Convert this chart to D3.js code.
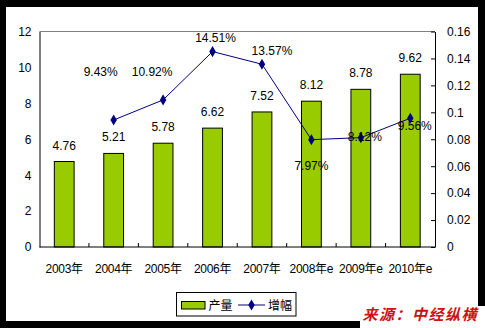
<!DOCTYPE html>
<html><head><meta charset="utf-8">
<script src="https://cdn.jsdelivr.net/npm/d3@7"></script>
<style>
html,body{margin:0;padding:0;background:#000;}
svg{display:block;}
text{font-family:"Liberation Sans","Noto Sans CJK SC",Arial,sans-serif;}
</style></head>
<body>
<svg id="chart" width="485" height="328"></svg>
<script>
const categories = ["2003年","2004年","2005年","2006年","2007年","2008年e","2009年e","2010年e"];
const output = [4.76, 5.21, 5.78, 6.62, 7.52, 8.12, 8.78, 9.62];
const growth = [null, 0.0943, 0.1092, 0.1451, 0.1357, 0.0797, 0.0812, 0.0956];
const growthLabels = ["", "9.43%", "10.92%", "14.51%", "13.57%", "7.97%", "8.12%", "9.56%"];
const leftTicks = [0, 2, 4, 6, 8, 10, 12];
const rightTicks = [0, 0.02, 0.04, 0.06, 0.08, 0.1, 0.12, 0.14, 0.16];
const rightTickLabels = ["0","0.02","0.04","0.06","0.08","0.1","0.12","0.14","0.16"];
const legendNames = ["产量", "增幅"];
const sourceText = "来源：中经纵横";

// label placement offsets (layout only)
const growthLabelOffsets = [[0,0],[-13,-44],[-11,-24],[3,-10],[10,-9],[0,30],[4,3],[4.5,12]];

const svg = d3.select("#chart");
const L = 39.5, R = 435, T = 31.5, B = 247;

svg.append("rect").attr("x",6).attr("y",7).attr("width",472).attr("height",314).attr("fill","#fff");
svg.append("rect").attr("x",360).attr("y",306).attr("width",125).attr("height",22).attr("fill","#fff");

const x = d3.scaleBand().domain(categories).range([L, R]).paddingInner(0.6).paddingOuter(0.3);
const y = d3.scaleLinear().domain([0, 12]).range([B, T]);
const y2 = d3.scaleLinear().domain([0, 0.16]).range([B, T]);
const cx = c => x(c) + x.bandwidth()/2;

// top gray border
svg.append("line").attr("x1",L).attr("x2",R).attr("y1",T).attr("y2",T).attr("stroke","#808080").attr("stroke-width",1);

// left axis
const gl = svg.append("g").attr("transform",`translate(${L},0)`)
  .call(d3.axisLeft(y).tickValues(leftTicks).tickSize(0).tickPadding(8));
gl.select(".domain").attr("stroke","#000");
gl.selectAll("text").attr("font-size",12).attr("fill","#000");

// right axis
const gr = svg.append("g").attr("transform",`translate(${R},0)`)
  .call(d3.axisRight(y2).tickValues(rightTicks).tickFormat((d,i)=>rightTickLabels[i]).tickSizeInner(-4).tickSizeOuter(0).tickPadding(12));
gr.select(".domain").attr("stroke","#000");
gr.selectAll("line").attr("stroke","#000");
gr.selectAll("text").attr("font-size",12).attr("fill","#000");

// bars
svg.append("g").selectAll("rect").data(output).join("rect")
  .attr("x",(d,i)=>x(categories[i])).attr("width",x.bandwidth())
  .attr("y",d=>y(d)).attr("height",d=>B-y(d))
  .attr("fill","#99cc00").attr("stroke","#000").attr("stroke-width",1);

// bottom axis
const step = x.step();
const gb = svg.append("g");
gb.append("line").attr("x1",L).attr("x2",R).attr("y1",B).attr("y2",B).attr("stroke","#000");
gb.selectAll("line.t").data(d3.range(1, categories.length)).join("line").attr("class","t")
  .attr("x1",i=>L+i*step).attr("x2",i=>L+i*step).attr("y1",B).attr("y2",B-4).attr("stroke","#000");
gb.selectAll("text").data(categories).join("text")
  .attr("x",c=>cx(c)).attr("y",273).attr("text-anchor","middle").attr("font-size",12).attr("fill","#000")
  .style("letter-spacing","-0.3px").text(c=>c);

// bar labels
svg.append("g").selectAll("text").data(output).join("text")
  .attr("x",(d,i)=>cx(categories[i])).attr("y",d=>y(d)-12).attr("text-anchor","middle")
  .attr("font-size",12).attr("fill","#000").text(d=>d.toFixed(2));

// line
const pts = growth.map((g,i)=>({g,i})).filter(p=>p.g!==null);
svg.append("path").datum(pts)
  .attr("d", d3.line().x(p=>cx(categories[p.i])).y(p=>y2(p.g)))
  .attr("fill","none").attr("stroke","#000080").attr("stroke-width",1);
svg.append("g").selectAll("path").data(pts).join("path")
  .attr("d", d3.symbol().type(d3.symbolDiamond).size(36))
  .attr("transform",p=>`translate(${cx(categories[p.i])},${y2(p.g)})`)
  .attr("fill","#000080");

// growth labels
svg.append("g").selectAll("text").data(pts).join("text")
  .attr("x",p=>cx(categories[p.i])+growthLabelOffsets[p.i][0])
  .attr("y",p=>y2(p.g)+growthLabelOffsets[p.i][1])
  .attr("text-anchor","middle").attr("font-size",12).attr("fill","#000")
  .text(p=>growthLabels[p.i]);

// legend
const lg = svg.append("g");
lg.append("rect").attr("x",176.5).attr("y",292.5).attr("width",119.5).attr("height",23.5).attr("fill","#fff").attr("stroke","#000");
lg.append("rect").attr("x",181.5).attr("y",301.5).attr("width",23.5).attr("height",7.5).attr("fill","#99cc00").attr("stroke","#000");
lg.append("text").attr("x",208.5).attr("y",310).attr("font-size",12).attr("fill","#000").text(legendNames[0]);
lg.append("line").attr("x1",238).attr("x2",265).attr("y1",305).attr("y2",305).attr("stroke","#000080");
lg.append("path").attr("d",d3.symbol().type(d3.symbolDiamond).size(36)).attr("transform","translate(251.5,305)").attr("fill","#000080");
lg.append("text").attr("x",268).attr("y",310).attr("font-size",12).attr("fill","#000").text(legendNames[1]);

// source
svg.append("text").attr("x",478).attr("y",320).attr("text-anchor","end")
  .attr("font-size",15).attr("font-weight","bold").attr("font-style","italic")
  .attr("fill","#cc1111").style("letter-spacing","1.5px")
  .style("font-family","'Noto Sans CJK SC',sans-serif").text(sourceText);
</script>
</body></html>
